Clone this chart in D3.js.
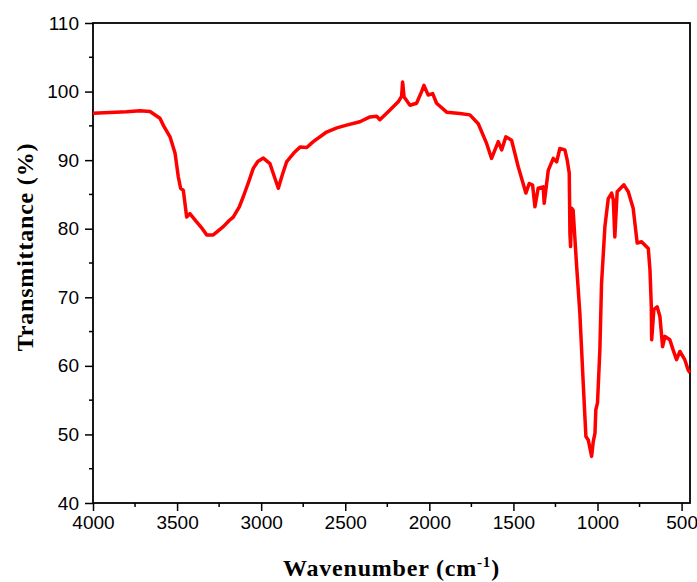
<!DOCTYPE html>
<html>
<head>
<meta charset="utf-8">
<script src="https://cdn.jsdelivr.net/npm/d3@7"></script>
<style>
  body { margin: 0; background: #fff; }
  .tick text { font-family: "Liberation Sans", Arial, sans-serif; font-size: 19px; fill: #000; }
  .title { font-family: "Liberation Serif", "DejaVu Serif", serif; font-weight: bold; font-size: 24px; letter-spacing: 0.8px; fill: #000; }
</style>
</head>
<body>
<script>
// FTIR spectrum, values
var wavenumber = [4000, 3900, 3800, 3721, 3661, 3602, 3580, 3542, 3512, 3493, 3479, 3463, 3443, 3424, 3384,
  3350, 3324, 3285, 3225, 3190, 3166, 3130, 3106, 3075, 3047, 3020, 2987, 2948, 2930, 2898, 2875, 2848,
  2800, 2769, 2729, 2690, 2611, 2550, 2492, 2413,
  2353, 2313, 2294, 2234, 2185, 2165, 2159, 2150, 2115, 2076, 2046, 2032, 2007, 1980, 1957, 1897,
  1818, 1759, 1709, 1659, 1630, 1590, 1570, 1545, 1511, 1471, 1426, 1406, 1386, 1372, 1353, 1323,
  1317, 1293, 1263, 1243, 1224, 1194, 1180, 1168, 1164, 1160, 1154, 1145, 1134, 1124, 1105, 1085,
  1075, 1069, 1055, 1045, 1035, 1025, 1015, 1010, 1005, 1000, 986, 976, 956, 936, 916, 906, 897,
  883, 843, 817, 788, 764, 738, 698, 688, 680, 678, 665, 645, 629, 613, 599, 570, 550, 530, 510,
  481, 461, 450]
var transmittance = [96.85, 96.95, 97.05, 97.2, 97.1, 96.1, 95.0, 93.4, 91.0, 87.6, 85.9, 85.6, 81.7, 82.2, 81.0,
  80.0, 79.1, 79.1, 80.3, 81.2, 81.7, 83.2, 84.7, 86.8, 88.8, 89.8, 90.3, 89.5, 88.2, 85.9, 87.8, 89.8,
  91.2, 91.9, 91.85, 92.7, 94.1, 94.7, 95.1, 95.6,
  96.3, 96.4, 95.9, 97.3, 98.5, 99.3, 101.4, 99.2, 98.0, 98.3, 100.0, 100.9, 99.5, 99.7, 98.3, 97.0,
  96.8, 96.6, 95.3, 92.4, 90.25, 92.7, 91.5, 93.4, 92.9, 89.0, 85.2, 86.6, 86.35, 83.2, 85.9, 86.1,
  83.7, 88.5, 90.25, 89.75, 91.7, 91.5, 90.0, 88.1, 79.3, 77.4, 83.0, 82.7, 78.4, 74.5, 67.7, 57.5,
  52.6, 49.7, 49.2, 48.0, 46.8, 49.0, 50.2, 53.6, 54.1, 54.6, 62.3, 72.0, 80.3, 84.4, 85.2, 84.2, 78.8,
  85.4, 86.4, 85.4, 83.0, 77.9, 78.1, 77.1, 74.0, 68.6, 63.8, 68.2, 68.6, 67.2, 62.8, 64.3, 63.8, 62.3, 60.9, 62.1,
  60.9, 59.4, 59.0]
var xTicks = [4000, 3500, 3000, 2500, 2000, 1500, 1000, 500]
var yTicks = [40, 50, 60, 70, 80, 90, 100, 110]

var W = 697, H = 582
var margin = { top: 23, right: 7, bottom: 79, left: 93 }
var w = W - margin.left - margin.right
var h = H - margin.top - margin.bottom

var svg = d3.select('body').append('svg')
    .attr('width', W)
    .attr('height', H)
var g = svg.append('g')
    .attr('transform', 'translate(' + margin.left + ',' + margin.top + ')')

var x = d3.scaleLinear().domain([4000, 450]).range([0, w])
var y = d3.scaleLinear().domain([40, 110]).range([h, 0])

// minor ticks
var xMinor = d3.range(3750, 450, -500)
var yMinor = d3.range(45, 110, 10)
g.selectAll('.xminor').data(xMinor).enter().append('line')
    .attr('x1', function (d) { return x(d) }).attr('x2', function (d) { return x(d) })
    .attr('y1', h).attr('y2', h + 4)
    .attr('stroke', '#000').attr('stroke-width', 1.5)
g.selectAll('.yminor').data(yMinor).enter().append('line')
    .attr('y1', function (d) { return y(d) }).attr('y2', function (d) { return y(d) })
    .attr('x1', 0).attr('x2', -4)
    .attr('stroke', '#000').attr('stroke-width', 1.5)

g.append('g')
    .attr('transform', 'translate(0,' + h + ')')
    .call(d3.axisBottom(x).tickValues(xTicks).tickFormat(d3.format('d'))
      .tickSize(8).tickPadding(5).tickSizeOuter(0))
g.append('g')
    .call(d3.axisLeft(y).tickValues(yTicks).tickFormat(d3.format('d'))
      .tickSize(8).tickPadding(6).tickSizeOuter(0))
g.selectAll('.domain').remove()
g.selectAll('.tick line').attr('stroke-width', 1.5)

// frame
g.append('rect')
    .attr('width', w).attr('height', h)
    .attr('fill', 'none').attr('stroke', '#000').attr('stroke-width', 1.8)

var pts = wavenumber.map(function (d, i) { return [d, transmittance[i]] })
var line = d3.line()
    .x(function (d) { return x(d[0]) })
    .y(function (d) { return y(d[1]) })
g.append('path')
    .datum(pts)
    .attr('d', line)
    .attr('fill', 'none')
    .attr('stroke', '#ff0000')
    .attr('stroke-width', 3.5)
    .attr('stroke-linejoin', 'round')

// axis titles
var xt = svg.append('text')
    .attr('class', 'title')
    .attr('x', margin.left + w / 2)
    .attr('y', 576)
    .attr('text-anchor', 'middle')
xt.append('tspan').text('Wavenumber (cm')
xt.append('tspan').attr('dy', -9).attr('font-size', 15).text('-1')
xt.append('tspan').attr('dy', 9).text(')')

svg.append('text')
    .attr('class', 'title')
    .attr('transform', 'translate(33,' + 247 + ') rotate(-90)')
    .attr('text-anchor', 'middle')
    .text('Transmittance (%)')
</script>
</body>
</html>
